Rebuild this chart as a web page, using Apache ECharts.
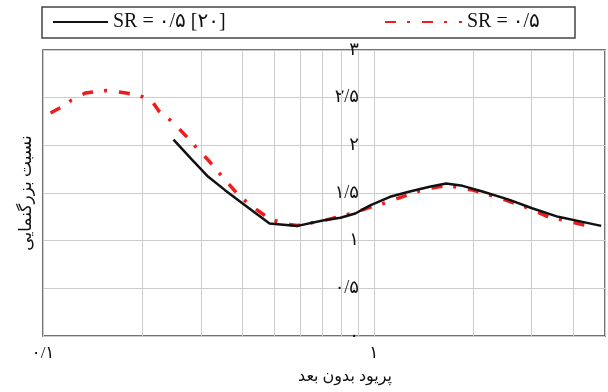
<!DOCTYPE html>
<html>
<head>
<meta charset="utf-8">
<script src="https://cdn.jsdelivr.net/npm/echarts@6/dist/echarts.min.js"></script>
<style>html,body{margin:0;padding:0;background:#fff;}#c{width:608px;height:392px;}</style>
</head>
<body>
<div id="c"></div>
<script>
var seriesNames = ['SR = ۰/۵ [۲۰]', 'SR = ۰/۵'];
var blackX = [0.248,0.282,0.316,0.355,0.407,0.484,0.588,0.707,0.793,0.879,0.975,1.12,1.285,1.475,1.655,1.855,2.13,2.56,3.01,3.61,4.24,4.87];
var blackY = [2.06,1.85,1.67,1.53,1.375,1.18,1.155,1.215,1.24,1.285,1.37,1.46,1.515,1.565,1.60,1.575,1.515,1.43,1.34,1.25,1.2,1.155];
var redX = [0.1054,0.115,0.122,0.1345,0.155,0.178,0.2,0.214,0.224,0.2455,0.257,0.277,0.299,0.313,0.339,0.363,0.385,0.417,0.457,0.484,0.537,0.588,0.715,0.811,0.86,0.953,1.069,1.256,1.442,1.673,1.99,2.44,2.94,3.37,3.96,4.65];
var redY = [2.34,2.41,2.475,2.55,2.575,2.55,2.51,2.46,2.36,2.25,2.18,2.06,1.93,1.86,1.72,1.60,1.50,1.39,1.29,1.23,1.175,1.16,1.215,1.265,1.285,1.34,1.39,1.475,1.545,1.58,1.53,1.44,1.34,1.25,1.195,1.14];
var xTicks = [0.1, 1];
var xTickLabels = ['۰/۱', '۱'];
var xGridValues = [0.2,0.3,0.4,0.5,0.6,0.7,0.8,0.9,2,3,4];
var yTicks = [0,0.5,1,1.5,2,2.5,3];
var yTickLabels = ['۰','۰/۵','۱','۱/۵','۲','۲/۵','۳'];
var xTitle = 'پریود بدون بعد';
var yTitle = 'نسبت بزرگنمایی';

function zip(a,b){return a.map(function(v,i){return [v,b[i]];});}
function lookup(ticks, labels, v){
  for (var i=0;i<ticks.length;i++){ if (Math.abs(ticks[i]-v) < 1e-6*Math.max(1,Math.abs(ticks[i]))) return labels[i]; }
  return '';
}
var FONT = '"Liberation Serif", "DejaVu Sans", serif';
var chart = echarts.init(document.getElementById('c'), null, {renderer:'canvas'});
chart.setOption({
  animation: false,
  backgroundColor: '#fff',
  grid: {left: 43, top: 50, right: -2, bottom: 56, show: true, borderColor: '#444', borderWidth: 1.5},
  graphic: [{type:'rect', shape:{x:42, y:7, width:533, height:31}, style:{fill:'none', stroke:'#444', lineWidth:1.5}, z: 10}],
  legend: [
    {data:[seriesNames[0]], left: 52, top: 12, padding: 0, itemWidth: 55, itemHeight: 20,
     itemStyle: {opacity: 0},
     textStyle:{fontFamily: FONT, fontSize: 20, color:'#111'}},
    {data:[seriesNames[1]], left: 384, top: 12, padding: 0, itemWidth: 77, itemHeight: 20,
     itemStyle: {opacity: 0},
     textStyle:{fontFamily: FONT, fontSize: 20, color:'#111'}}
  ],
  xAxis: {
    type: 'log', logBase: 10, min: 0.1, max: 5,
    axisLine: {show: false}, axisTick: {show: false},
    splitLine: {show: true, lineStyle: {color: '#cccccc', width: 1}},
    axisLabel: {margin: 9, fontFamily: FONT, fontSize: 17, color: '#111',
      formatter: function(v){ return lookup(xTicks, xTickLabels, v); }},
    name: xTitle, nameLocation: 'middle', nameGap: 33,
    nameTextStyle: {fontFamily: FONT, fontSize: 16, color: '#111', padding: [0,0,0,42]}
  },
  yAxis: {
    type: 'value', min: 0, max: 3, interval: 0.5,
    axisLine: {show: false}, axisTick: {show: false},
    splitLine: {show: true, lineStyle: {color: '#cccccc', width: 1}},
    axisLabel: {margin: -316, fontFamily: FONT, fontSize: 18, color: '#111',
      formatter: function(v){ return lookup(yTicks, yTickLabels, v); }},
    name: yTitle, nameLocation: 'middle', nameGap: 4,
    nameTextStyle: {fontFamily: FONT, fontSize: 17, color: '#111'}
  },
  series: [
    {name: seriesNames[1], type: 'line', data: zip(redX, redY), symbol: 'none', z: 3,
     lineStyle: {color: '#ee1c1c', width: 3.5, type: [11, 11, 3, 12]},
     itemStyle: {color: '#ee1c1c'},
     markLine: {silent: true, symbol: 'none', z: 1, animation: false, label: {show: false},
       lineStyle: {color: '#cccccc', width: 1, type: 'solid'},
       data: xGridValues.map(function(v){ return {xAxis: v}; })}},
    {name: seriesNames[0], type: 'line', data: zip(blackX, blackY), symbol: 'none', z: 4,
     lineStyle: {color: '#111', width: 2.5, type: 'solid'}, itemStyle: {color: '#111'}}
  ]
});
</script>
</body>
</html>
